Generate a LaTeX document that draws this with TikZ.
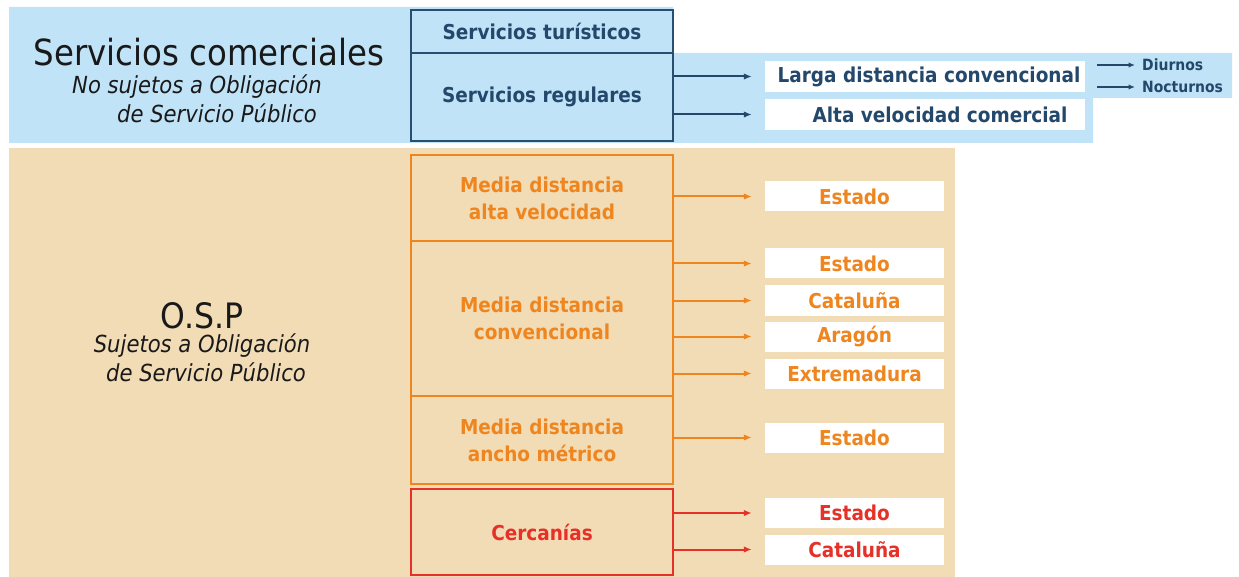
\documentclass[tikz,border=0pt]{standalone}
\usepackage{fontspec}
\setmainfont{DejaVu Sans}[FakeStretch=0.9]
\usetikzlibrary{arrows.meta}
\definecolor{bluebg}{RGB}{193,227,247}
\definecolor{orbg}{RGB}{242,220,182}
\definecolor{navy}{RGB}{35,72,108}
\definecolor{navyline}{RGB}{40,78,112}
\definecolor{orng}{RGB}{239,133,30}
\definecolor{redc}{RGB}{230,48,40}
\definecolor{ink}{RGB}{25,25,25}
\begin{document}
\begin{tikzpicture}[x=1pt,y=-1pt,
  midfont/.style={font=\fontsize{20.5}{25}\selectfont\bfseries},
  box/.style={draw,line width=2.2pt,minimum width=262pt,inner sep=0pt,align=center,midfont},
  wbox/.style={fill=white,inner sep=0pt,minimum height=30pt,align=center,midfont},
  arr/.style={line width=2pt,-{Latex[length=8pt,width=6.5pt]},shorten >=13pt},
  sarr/.style={line width=1.5pt,-{Latex[length=6.5pt,width=5.5pt]},shorten <=12pt,shorten >=7pt},
  title/.style={font=\fontsize{36}{40}\selectfont,text=ink,inner sep=0pt},
  sub/.style={font=\fontsize{23.5}{27}\selectfont\itshape,text=ink,inner sep=0pt},
  small/.style={font=\fontsize{15.5}{18}\selectfont\bfseries,text=navy,inner sep=0pt,anchor=west}
]
\useasboundingbox (0,0) rectangle (1239,577);
% backgrounds
\fill[bluebg] (9,7) -- (673,7) -- (673,53) -- (1232,53) -- (1232,98) -- (1093,98) -- (1093,143) -- (9,143) -- cycle;
\fill[orbg] (9,148) rectangle (955,577);

% left titles
\node[title] (sc) at (209,52) {Servicios comerciales};
\node[sub] (sc1) at (197,87) {No sujetos a Obligación};
\node[sub] (sc2) at (217,113) {de Servicio Público};
\node[title,font=\fontsize{35}{40}\selectfont] (osp) at (202,316) {O.S.P};
\node[sub] (osp1) at (202,346) {Sujetos a Obligación};
\node[sub] (osp2) at (206,372) {de Servicio Público};

% commercial boxes
\node[box,draw=navyline,line width=2.6pt,text=navy,fill=bluebg,minimum height=43pt] (tur) at (542,31.5) {Servicios turísticos};
\node[box,draw=navyline,line width=2.6pt,text=navy,fill=bluebg,minimum height=88pt] (reg) at (542,97) {Servicios regulares};
\node[wbox,text=navy,minimum width=320pt,minimum height=31pt] (ldc) at (925,76.5) {\hspace*{8pt}Larga distancia convencional};
\node[wbox,minimum width=320pt,minimum height=31pt] (avc) at (925,114.5) {};
\node[midfont,text=navy,inner sep=0pt] (avct) at (940,114.5) {Alta velocidad comercial};
\node[small] (diu) at (1142,65) {Diurnos};
\node[small] (noc) at (1142,87) {Nocturnos};

\draw[arr,navy] (ldc.west -| reg.east) -- (ldc.west);
\draw[arr,navy] (avc.west -| reg.east) -- (avc.west);
\draw[sarr,navy] (ldc.east |- diu.west) -- (diu.west);
\draw[sarr,navy] (ldc.east |- noc.west) -- (noc.west);

% OSP boxes
\node[box,draw=orng,text=orng,minimum height=86pt] (mdav) at (542,198) {Media distancia\\[2pt]alta velocidad};
\node[box,draw=orng,text=orng,minimum height=155pt] (mdc) at (542,318.5) {Media distancia\\[2pt]convencional};
\node[box,draw=orng,text=orng,minimum height=88pt] (mdam) at (542,440) {Media distancia\\[2pt]ancho métrico};
\node[box,draw=redc,text=redc,minimum height=86pt] (cer) at (542,532) {Cercanías};

\node[wbox,text=orng,minimum width=179pt] (e1) at (854.5,196.5) {Estado};
\node[wbox,text=orng,minimum width=179pt] (e2) at (854.5,263.5) {Estado};
\node[wbox,text=orng,minimum width=179pt] (c1) at (854.5,300.5) {Cataluña};
\node[wbox,text=orng,minimum width=179pt] (ar) at (854.5,336.5) {Aragón};
\node[wbox,text=orng,minimum width=179pt] (ex) at (854.5,373.5) {Extremadura};
\node[wbox,text=orng,minimum width=179pt] (e3) at (854.5,437.5) {Estado};
\node[wbox,text=redc,minimum width=179pt] (e4) at (854.5,513) {Estado};
\node[wbox,text=redc,minimum width=179pt] (c2) at (854.5,549.5) {Cataluña};

\draw[arr,orng] (e1.west -| mdav.east) -- (e1.west);
\draw[arr,orng] (e2.west -| mdc.east) -- (e2.west);
\draw[arr,orng] (c1.west -| mdc.east) -- (c1.west);
\draw[arr,orng] (ar.west -| mdc.east) -- (ar.west);
\draw[arr,orng] (ex.west -| mdc.east) -- (ex.west);
\draw[arr,orng] (e3.west -| mdam.east) -- (e3.west);
\draw[arr,redc] (e4.west -| cer.east) -- (e4.west);
\draw[arr,redc] (c2.west -| cer.east) -- (c2.west);
\end{tikzpicture}
\end{document}
